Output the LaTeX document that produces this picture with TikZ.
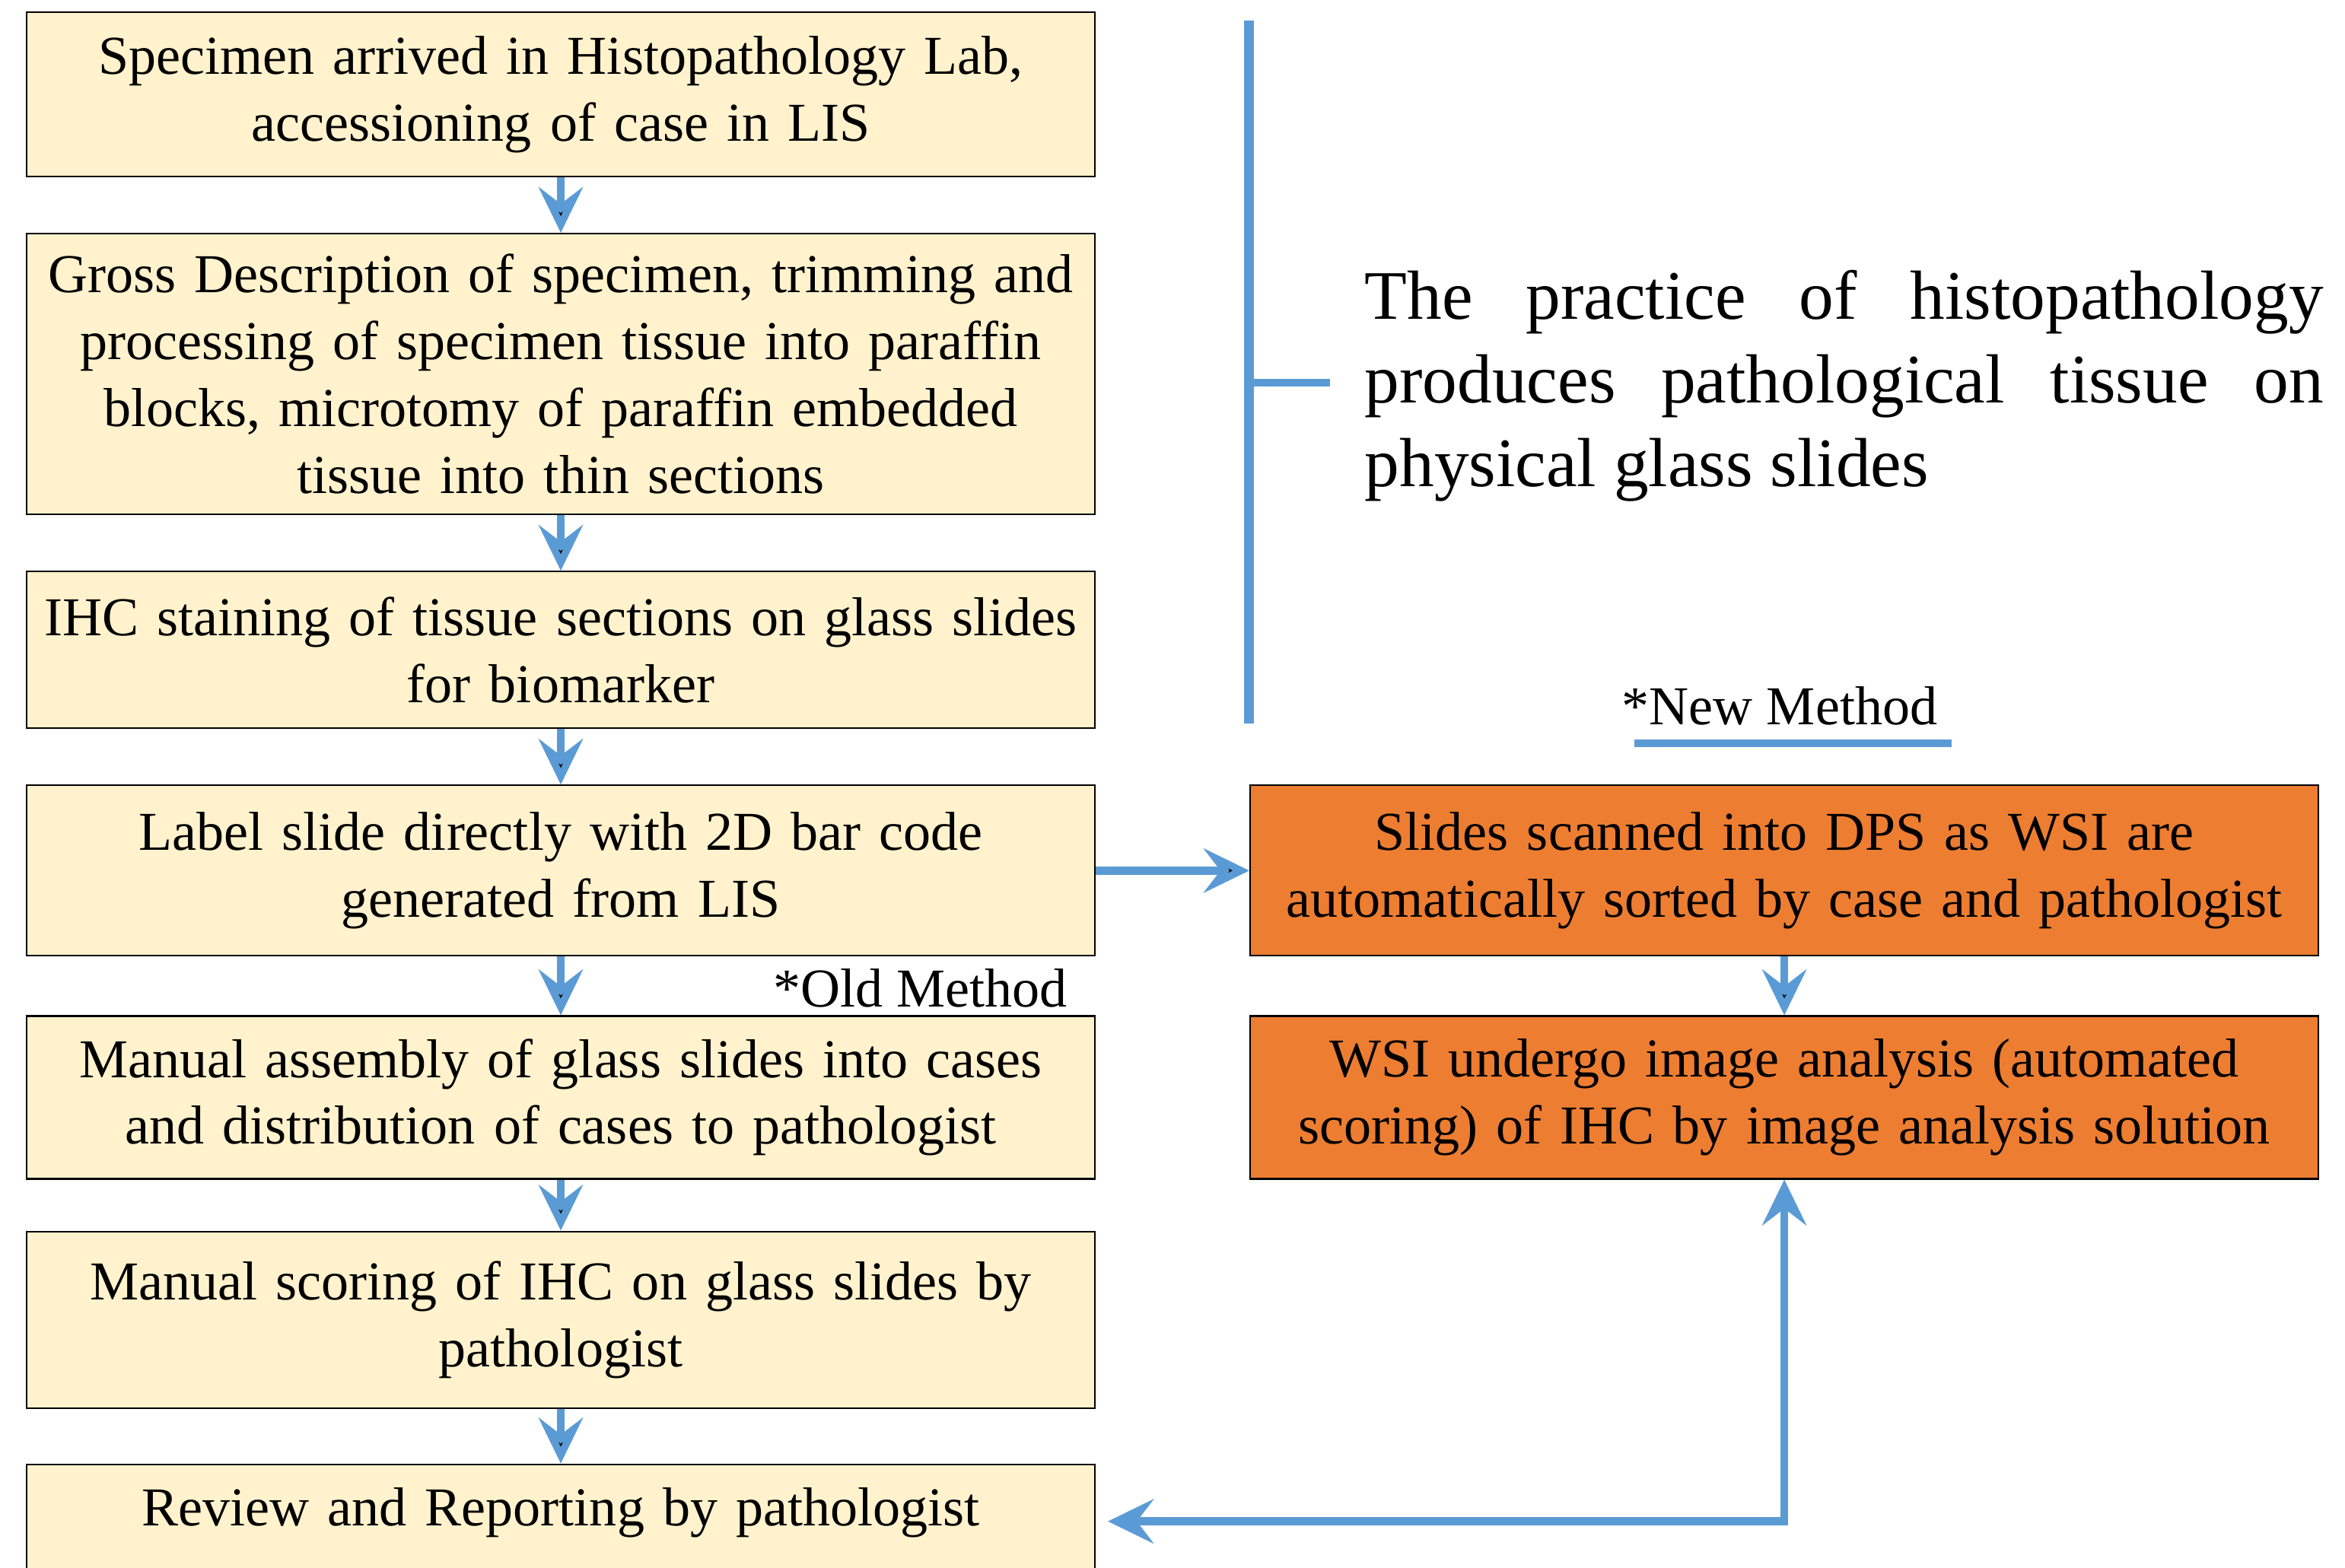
\documentclass[tikz,border=0pt]{standalone}
\usepackage{fontspec}
\setmainfont{Liberation Serif}
\usetikzlibrary{arrows.meta, positioning}
\definecolor{paleyellow}{RGB}{255,242,204}
\definecolor{dpsorange}{RGB}{237,125,49}
\definecolor{flowblue}{RGB}{91,155,213}

\begin{document}
\begin{tikzpicture}[>={Stealth[length=6mm,width=5.8mm,inset=2.2mm]},
  node distance=0.73cm,
  old step/.style={rectangle, draw=black, line width=0.6pt, fill=paleyellow,
  minimum width=14.04cm, text width=14cm, inner xsep=0.02cm, align=center,
  font=\fontsize{20.5}{25}\selectfont},
  new step/.style={old step, fill=dpsorange},
  note/.style={font=\fontsize{20.5}{25}\selectfont, inner sep=0pt},
  flow/.style={->, draw=flowblue, line width=3pt}]
  \useasboundingbox (0,0) rectangle (30.82,-20.60);

  % old workflow, top to bottom
  \node[old step, minimum height=2.16cm] (arrive) at (7.37,-1.24) {Specimen arrived in Histopathology Lab,\\ accessioning of case in LIS};
  \node[old step, minimum height=3.69cm] (gross) [below=of arrive] {Gross Description of specimen, trimming and\\ processing of specimen tissue into paraffin\\ blocks, microtomy of paraffin embedded\\ tissue into thin sections};
  \node[old step, minimum height=2.06cm] (stain) [below=of gross] {IHC staining of tissue sections on glass slides\\ for biomarker};
  \node[old step, minimum height=2.24cm] (label) [below=of stain] {Label slide directly with 2D bar code\\ generated from LIS};
  \node[old step, minimum height=2.14cm] (assembly) [below=0.77 of label] {Manual assembly of glass slides into cases\\ and distribution of cases to pathologist};
  \node[old step, minimum height=2.32cm] (scoring) [below=0.67 of assembly] {Manual scoring of IHC on glass slides by\\ pathologist};
  \node[old step, minimum height=1.5cm, text depth=0.38cm] (review) [below=0.72 of scoring] {Review and Reporting by pathologist};

  % digital workflow
  \node[new step, minimum height=2.24cm] (scan) [right=2.02 of label] {Slides scanned into DPS as WSI are\\ automatically sorted by case and pathologist};
  \node[new step, minimum height=2.14cm] (analysis) [below=0.77 of scan] {WSI undergo image analysis (automated\\ scoring) of IHC by image analysis solution};

  \node[note, anchor=east] (oldnote) at (14.03,-12.99) {*Old Method};
  \node[note] (newnote) at (23.39,-9.28) {*New Method};
  \draw[flowblue, line width=0.1cm] (21.48,-9.77) -- (25.65,-9.77);

  % bracket and remark
  \draw[flowblue, line width=0.13cm] (16.41,-0.27) -- (16.41,-9.51);
  \draw[flowblue, line width=0.1cm] (16.41,-5.03) -- (17.48,-5.03);
  \node[anchor=west, text width=12.6cm, align=justify, inner sep=0pt,
  font=\fontsize{26}{31.3}\selectfont] (practice) at (17.93,-5.07)
  {The practice of histopathology\linebreak produces pathological tissue on\linebreak physical glass slides};

  \path[flow]
    (arrive) edge (gross)
    (gross) edge (stain)
    (stain) edge (label)
    (label) edge (assembly)
    (assembly) edge (scoring)
    (scoring) edge (review)
    (label) edge (scan)
    (scan) edge (analysis);
  \draw[flow, <->, shorten >=0.16cm] (analysis) |- (review);
\end{tikzpicture}
\end{document}
